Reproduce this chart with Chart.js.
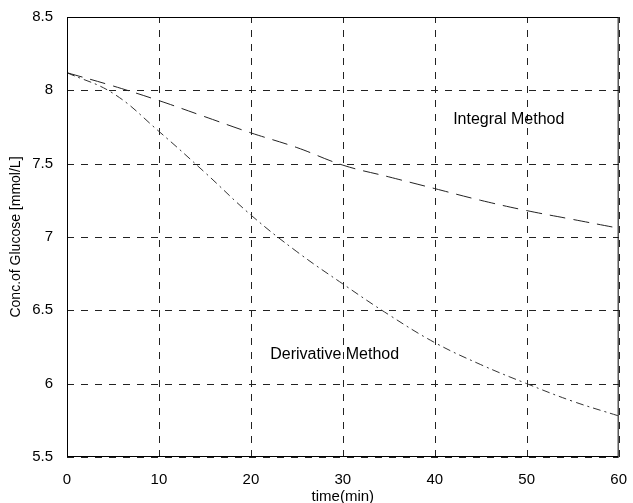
<!DOCTYPE html>
<html><head><meta charset="utf-8">
<script src="https://cdn.jsdelivr.net/npm/chart.js@4/dist/chart.umd.min.js"></script>
<style>html,body{margin:0;padding:0;background:#fff;}#wrap{width:633px;height:503px;}</style>
</head><body><div id="wrap"><canvas id="c" width="633" height="503"></canvas></div>
<script>
const times = [0, 5, 10, 15, 20, 25, 30, 35, 40, 45, 50, 55, 60];
const integralMethod = [8.12, 8.03, 7.93, 7.82, 7.71, 7.61, 7.49, 7.41, 7.33, 7.25, 7.18, 7.12, 7.06];
const derivativeMethod = [8.12, 7.98, 7.72, 7.44, 7.15, 6.90, 6.68, 6.47, 6.28, 6.13, 6.00, 5.88, 5.78];
const xTicks = [0, 10, 20, 30, 40, 50, 60];
const yTicks = [5.5, 6, 6.5, 7, 7.5, 8, 8.5];
const notes = [
  {text: 'Integral Method', x: 42.0, y: 7.80},
  {text: 'Derivative Method', x: 22.1, y: 6.20}
];

const FONT = '"Liberation Sans", Arial, sans-serif';

const framePlugin = {
  id: 'frame',
  beforeDatasetsDraw(chart) {
    const {ctx, chartArea: a, scales} = chart;
    ctx.save();
    ctx.strokeStyle = '#222';
    ctx.lineWidth = 1;
    ctx.setLineDash([7, 7]);
    xTicks.forEach(v => {
      const px = Math.round(scales.x.getPixelForValue(v)) + 0.5;
      ctx.beginPath(); ctx.moveTo(px, a.bottom); ctx.lineTo(px, a.top); ctx.stroke();
    });
    yTicks.forEach(v => {
      const py = Math.round(scales.y.getPixelForValue(v)) + 0.5;
      ctx.beginPath(); ctx.moveTo(a.left, py); ctx.lineTo(a.right, py); ctx.stroke();
    });
    ctx.restore();
  },
  afterDatasetsDraw(chart) {
    const {ctx, chartArea: a, scales} = chart;
    ctx.save();
    ctx.strokeStyle = '#000';
    ctx.lineWidth = 1;
    ctx.setLineDash([]);
    ctx.strokeRect(a.left + 0.5, a.top + 0.5, a.right - a.left - 1, a.bottom - a.top - 1);
    ctx.fillStyle = '#000';
    ctx.font = '16px ' + FONT;
    ctx.textBaseline = 'middle';
    ctx.textAlign = 'left';
    notes.forEach(n => {
      ctx.fillText(n.text, scales.x.getPixelForValue(n.x), scales.y.getPixelForValue(n.y));
    });
    ctx.restore();
  }
};

new Chart(document.getElementById('c'), {
  type: 'line',
  data: {
    datasets: [
      {label: 'Integral Method', data: times.map((t, i) => ({x: t, y: integralMethod[i]})),
       borderColor: '#222', borderWidth: 1, borderDash: [16, 8], pointRadius: 0, tension: 0.4, fill: false},
      {label: 'Derivative Method', data: times.map((t, i) => ({x: t, y: derivativeMethod[i]})),
       borderColor: '#333', borderWidth: 1, borderDash: [8, 4, 2, 4], pointRadius: 0, tension: 0.4, fill: false}
    ]
  },
  options: {
    responsive: false,
    animation: false,
    layout: {padding: {left: 0, right: 10, top: 17, bottom: 0}},
    plugins: {legend: {display: false}, tooltip: {enabled: false}},
    scales: {
      x: {
        type: 'linear', min: 0, max: 60,
        afterBuildTicks(s) { s.ticks = xTicks.map(v => ({value: v})); },
        afterFit(s) { s.height = 46; },
        grid: {display: false},
        border: {display: false},
        ticks: {color: '#000', font: {size: 15, family: FONT}, padding: 6, maxRotation: 0},
        title: {display: true, text: 'time(min)', color: '#000', font: {size: 15, family: FONT}, padding: {top: 0, bottom: -3}}
      },
      y: {
        type: 'linear', min: 5.5, max: 8.5,
        afterBuildTicks(s) { s.ticks = yTicks.map(v => ({value: v})); },
        afterFit(s) { s.width = 67; },
        grid: {display: false},
        border: {display: false},
        ticks: {color: '#000', font: {size: 15, family: FONT}, padding: 6,
                callback: v => String(v)},
        title: {display: true, text: 'Conc.of Glucose [mmol/L]', color: '#000', font: {size: 14, family: FONT}, padding: {top: 8, bottom: 0}}
      }
    }
  },
  plugins: [framePlugin]
});
</script></body></html>
